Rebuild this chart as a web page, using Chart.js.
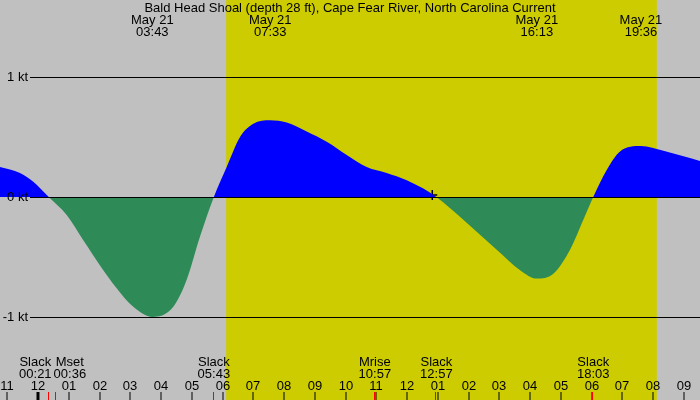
<!DOCTYPE html>
<html lang="en">

<head>
  <meta charset="UTF-8">
  <script src="https://cdn.jsdelivr.net/npm/chart.js"></script>
  <title>Bald Head Shoal Current</title>
  <style>
    body {
      margin: 0;
      padding: 0;
      background-color: #c0c0c0;
    }

    canvas {
      display: block;
    }
  </style>
</head>

<body>
  <canvas id="currentChart" width="700" height="400"></canvas>

  <script>
    // hours from midnight, May 21 (negative = evening of May 20)
    const sampleHours = [-1.235, -0.585, -0.163, 0.35, 0.933, 1.473, 2.016, 2.558, 3.098, 3.717,
      4.399, 4.834, 5.267, 5.717, 6.134, 6.567, 7.0, 7.55, 8.085, 8.735, 9.385, 10.036, 10.686,
      11.336, 11.986, 12.526, 12.95, 13.826, 14.912, 15.67, 16.217, 16.752, 17.295, 17.728,
      18.05, 18.488, 18.92, 19.6, 20.33, 21.52];
    const speedKt = [0.25, 0.20, 0.13, 0, -0.15, -0.36, -0.57, -0.76, -0.915, -1.0,
      -0.915, -0.69, -0.33, 0, 0.25, 0.50, 0.61, 0.64, 0.62, 0.545, 0.46, 0.35, 0.25,
      0.20, 0.14, 0.07, 0, -0.19, -0.44, -0.61, -0.68, -0.64, -0.44, -0.19,
      0, 0.225, 0.38, 0.425, 0.385, 0.30];

    const titleText = 'Bald Head Shoal (depth 28 ft), Cape Fear River, North Carolina Current';
    const dateText = 'May 21';
    const peakTimes = ['03:43', '07:33', '16:13', '19:36'];

    const eventNames = ['Slack', 'Mset', 'Slack', 'Mrise', 'Slack', 'Slack'];
    const eventTimes = ['00:21', '00:36', '05:43', '10:57', '12:57', '18:03'];

    const sunrise = '06:07';
    const sunset = '20:07';
    const nowTime = '12:49';
    const nowSpeed = 0.017;

    const kTicks = [1, 0, -1];
    const kLabels = ['1 kt', '0 kt', '-1 kt'];

    const hourTicks = [-1, 0, 1, 2, 3, 4, 5, 6, 7, 8, 9, 10, 11, 12, 13, 14, 15, 16, 17, 18, 19, 20, 21];
    const hourLabels = ['11', '12', '01', '02', '03', '04', '05', '06', '07', '08', '09', '10',
      '11', '12', '01', '02', '03', '04', '05', '06', '07', '08', '09'];

    function toHours(hhmm) {
      const parts = hhmm.split(':');
      return parseInt(parts[0], 10) + parseInt(parts[1], 10) / 60;
    }

    const FONT = '13px "Liberation Sans", Arial, sans-serif';

    const decorPlugin = {
      id: 'decor',
      beforeDraw(chart) {
        const ctx = chart.ctx;
        const xs = chart.scales.x;
        ctx.save();
        ctx.fillStyle = '#c0c0c0';
        ctx.fillRect(0, 0, chart.width, chart.height);
        const x1 = xs.getPixelForValue(toHours(sunrise));
        const x2 = xs.getPixelForValue(toHours(sunset));
        ctx.fillStyle = '#cccc00';
        ctx.fillRect(x1, 0, x2 - x1, chart.height);
        ctx.restore();
      },
      afterDatasetsDraw(chart) {
        const ctx = chart.ctx;
        const xs = chart.scales.x;
        const ys = chart.scales.y;
        ctx.save();
        ctx.font = FONT;
        ctx.fillStyle = '#000';
        ctx.strokeStyle = '#000';
        ctx.lineWidth = 1;

        // speed lines and labels
        ctx.textBaseline = 'middle';
        ctx.textAlign = 'right';
        kTicks.forEach((k, i) => {
          const y = Math.round(ys.getPixelForValue(k)) + 0.5;
          ctx.beginPath();
          ctx.moveTo(30, y);
          ctx.lineTo(chart.width, y);
          ctx.stroke();
          ctx.fillText(kLabels[i], 28, y);
        });

        // title
        ctx.textAlign = 'center';
        ctx.fillText(titleText, chart.width / 2, 8);

        // max / min times at top
        peakTimes.forEach(t => {
          const x = xs.getPixelForValue(toHours(t));
          ctx.fillText(dateText, x, 20);
          ctx.fillText(t, x, 32);
        });

        // hour ticks and labels
        hourTicks.forEach((h, i) => {
          const x = Math.round(xs.getPixelForValue(h));
          ctx.fillText(hourLabels[i], x, 386);
          ctx.fillRect(h === 0 ? x - 1.5 : x - 0.5, 392, h === 0 ? 3 : 1, 8);
        });

        // events: red ticks and labels, spread apart when they collide
        const boxes = eventNames.map((name, i) => {
          const x = xs.getPixelForValue(toHours(eventTimes[i]));
          const w = Math.max(ctx.measureText(name).width, ctx.measureText(eventTimes[i]).width);
          return { x, c: x, w };
        });
        for (let i = 1; i < boxes.length; i++) {
          const a = boxes[i - 1], b = boxes[i];
          if (a.c + a.w / 2 + 2 > b.c - b.w / 2) {
            const mid = (a.c + b.c) / 2;
            const total = a.w + b.w + 2;
            a.c = mid - total / 2 + a.w / 2;
            b.c = mid + total / 2 - b.w / 2;
          }
        }
        ctx.fillStyle = '#ff0000';
        boxes.forEach(b => {
          ctx.fillRect(Math.round(b.x) - 1, 392, 1, 8);
        });
        ctx.fillStyle = '#000';
        boxes.forEach((b, i) => {
          ctx.fillText(eventNames[i], b.c, 362);
          ctx.fillText(eventTimes[i], b.c, 374);
        });
        ctx.restore();
      }
    };

    const currentChart = document.getElementById('currentChart').getContext('2d');

    new Chart(currentChart, {
      type: 'line',
      data: {
        datasets: [{
          data: sampleHours.map((h, i) => ({ x: h, y: speedKt[i] })),
          borderColor: 'rgba(0,0,0,0)',
          borderWidth: 0,
          pointRadius: 0,
          cubicInterpolationMode: 'monotone',
          fill: {
            target: 'origin',
            above: '#0000ff',
            below: '#2e8b57'
          }
        }, {
          data: [{ x: toHours(nowTime), y: nowSpeed }],
          showLine: false,
          pointStyle: 'cross',
          pointRadius: 5,
          borderColor: '#000',
          borderWidth: 1.5,
          backgroundColor: '#000'
        }]
      },
      options: {
        responsive: false,
        animation: false,
        devicePixelRatio: 1,
        layout: { padding: 0, autoPadding: false },
        scales: {
          x: { type: 'linear', min: -1.235, max: 21.52, display: false },
          y: { min: -1.6917, max: 1.6417, display: false }
        },
        plugins: {
          legend: { display: false },
          tooltip: { enabled: false }
        }
      },
      plugins: [decorPlugin]
    });
  </script>
</body>

</html>
